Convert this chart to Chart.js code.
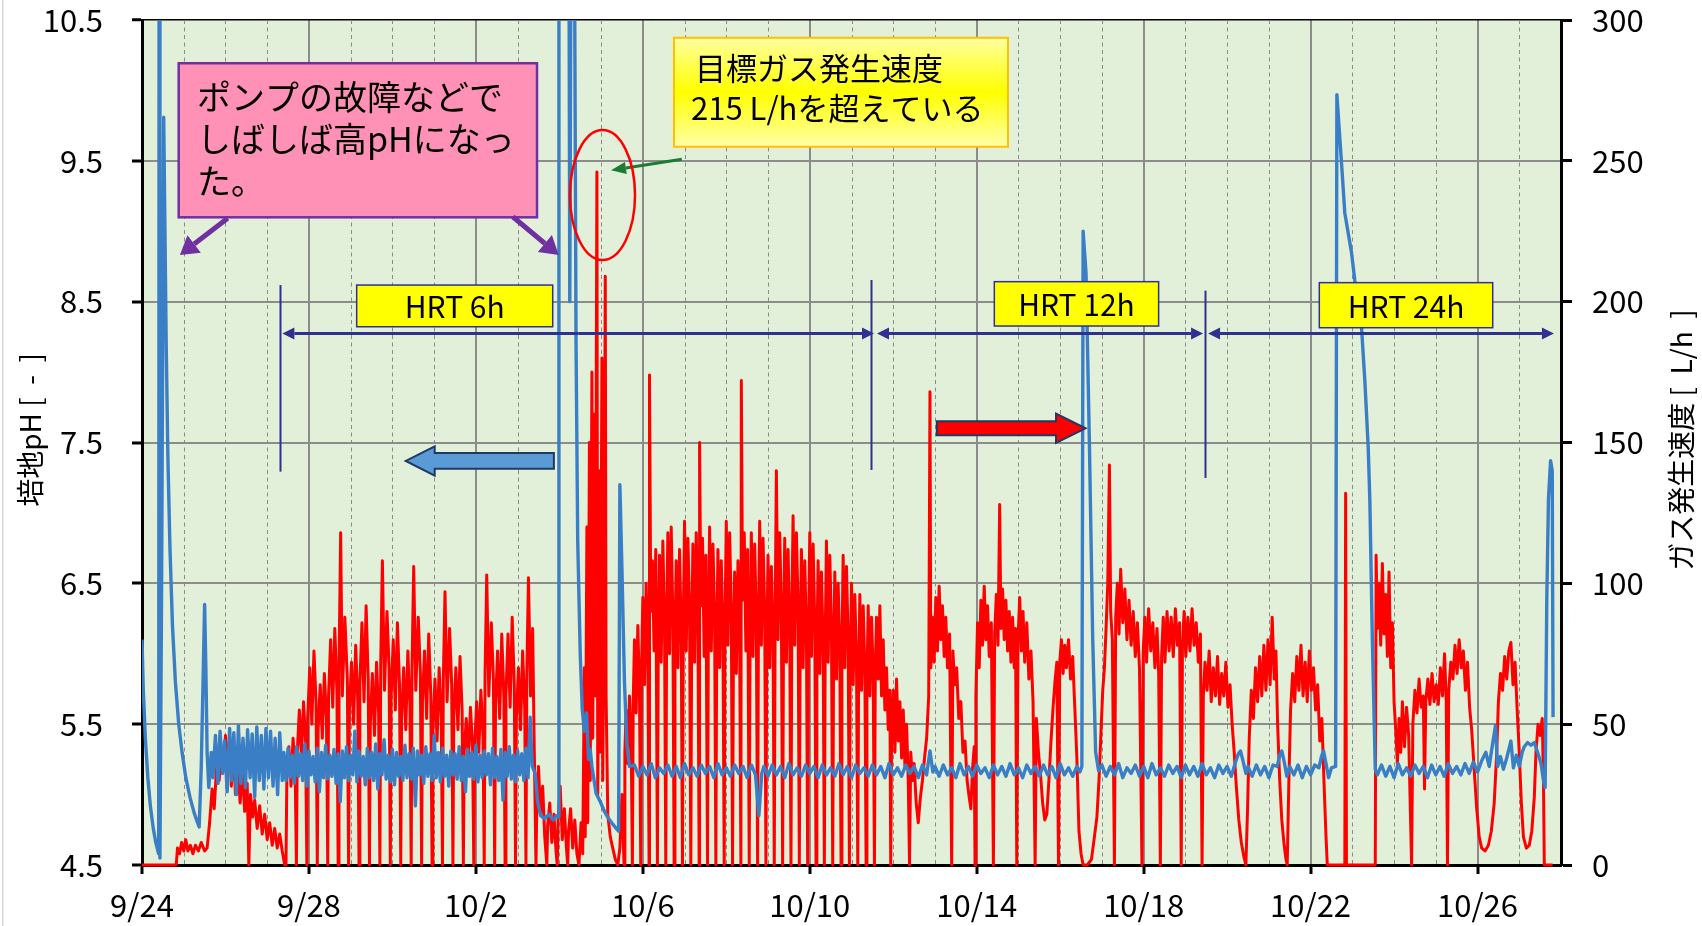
<!DOCTYPE html>
<html><head><meta charset="utf-8">
<script src="https://cdn.jsdelivr.net/npm/chart.js@4"></script>
<style>html,body{margin:0;padding:0;background:#fff;}canvas{display:block;}</style>
</head><body>
<canvas id="c" width="1702" height="926"></canvas>
<script>
// ---------- axis ticks ----------
const dateTickDays = [0,4,8,12,16,20,24,28,32];
const dateTickLabels = ['9/24','9/28','10/2','10/6','10/10','10/14','10/18','10/22','10/26'];
const phTickLabels = ['4.5','5.5','6.5','7.5','8.5','9.5','10.5'];
const gasTickLabels = ['0','50','100','150','200','250','300'];

// ---------- pH series (days since 9/24, pH) ----------
const phStartup = [[0,6.1],[0.03,5.75],[0.08,5.4],[0.14,5.12],[0.2,4.92],[0.27,4.76],[0.33,4.66],[0.38,4.6],[0.4,4.58],[0.41,11.2],[0.43,4.55],[0.47,6.5],[0.52,9.81],[0.55,9.0],[0.58,8.2],[0.62,7.4],[0.67,6.75],[0.73,6.2],[0.8,5.8],[0.88,5.5],[0.96,5.3],[1.05,5.12],[1.15,4.98],[1.25,4.87],[1.33,4.8],[1.37,4.77],[1.42,5.2],[1.47,5.9],[1.5,6.35],[1.53,5.9],[1.56,5.3],[1.6,5.05],[1.66,5.3],[1.7,5.12],[1.76,5.42],[1.82,5.08],[1.87,5.45],[1.93,5.15],[1.98,5.38],[2.04,5.02],[2.1,5.47],[2.15,5.1],[2.2,5.44],[2.26,5.0],[2.31,5.49],[2.37,5.08],[2.42,5.4],[2.48,5.05],[2.53,5.46],[2.59,5.12],[2.64,5.43],[2.7,4.98],[2.75,5.48],[2.81,5.1],[2.86,5.42],[2.92,5.04],[2.97,5.47],[3.03,5.12],[3.08,5.45],[3.14,5.06],[3.19,5.4],[3.25,5.0],[3.3,5.44],[3.36,5.1]];
const phHrt6 = [[3.4,5.3],[3.45,5.1],[3.5,5.33],[3.55,5.12],[3.6,5.28],[3.65,5.08],[3.7,5.34],[3.75,5.13],[3.8,5.29],[3.85,5.1],[3.9,5.36],[3.95,5.06],[4.0,5.31],[4.05,5.14],[4.1,5.27],[4.15,5.09],[4.2,5.33],[4.25,5.02],[4.3,5.3],[4.35,5.12],[4.4,5.35],[4.45,5.11],[4.5,5.28],[4.55,5.13],[4.6,5.32],[4.65,5.08],[4.7,5.29],[4.75,4.95],[4.8,5.31],[4.85,5.12],[4.9,5.34],[4.95,5.1],[5.0,5.28],[5.05,5.14],[5.1,5.45],[5.15,5.09],[5.2,5.31],[5.25,5.13],[5.3,5.27],[5.35,5.07],[5.4,5.33],[5.45,5.12],[5.5,5.3],[5.55,5.1],[5.6,5.36],[5.65,5.04],[5.7,5.29],[5.75,5.14],[5.8,5.39],[5.85,5.11],[5.9,5.28],[5.95,5.09],[6.0,5.32],[6.05,5.07],[6.1,5.3],[6.15,5.13],[6.2,5.27],[6.25,5.1],[6.3,5.35],[6.35,5.12],[6.4,5.29],[6.45,5.11],[6.5,5.33],[6.55,4.92],[6.6,5.31],[6.65,5.14],[6.7,5.28],[6.75,5.08],[6.8,5.34],[6.85,5.13],[6.9,5.29],[6.95,5.1],[7.0,5.42],[7.05,5.12],[7.1,5.3],[7.15,5.09],[7.2,5.33],[7.25,5.13],[7.3,5.28],[7.35,5.06],[7.4,5.31],[7.45,5.14],[7.5,5.29],[7.55,5.11],[7.6,5.34],[7.65,5.1],[7.7,5.27],[7.75,5.02],[7.8,5.32],[7.85,5.13],[7.9,5.3],[7.95,5.11],[8.0,5.35],[8.05,5.09],[8.1,5.28],[8.15,5.12],[8.2,5.31],[8.25,5.14],[8.3,5.29],[8.35,5.07],[8.4,5.33],[8.45,5.12],[8.5,5.27],[8.55,5.1],[8.6,5.32],[8.65,4.96],[8.7,5.3],[8.75,5.13],[8.8,5.34],[8.85,5.11],[8.9,5.28],[8.95,5.09],[9.0,5.31],[9.05,5.14],[9.1,5.29],[9.15,5.1],[9.2,5.33],[9.25,5.12],[9.3,5.55],[9.35,5.2]];
const phUpset = [[9.42,5.15],[9.48,4.95],[9.55,4.85],[9.65,4.83],[9.75,4.86],[9.85,4.82],[9.93,4.85],[9.97,4.84],[9.99,11.2],[10.23,11.2],[10.25,8.5],[10.28,11.2],[10.36,11.2],[10.4,8.2],[10.44,6.8],[10.5,6.0],[10.55,5.6],[10.6,5.45],[10.65,5.58],[10.7,5.25],[10.74,5.32],[10.78,5.2],[10.88,5.01],[10.98,4.95],[11.08,4.88],[11.18,4.83],[11.28,4.79],[11.36,4.76],[11.42,4.74],[11.45,7.2],[11.5,6.6],[11.56,5.8],[11.62,5.35],[11.68,5.2]];
const phMid = [[11.8,5.21],[11.9,5.13],[12.0,5.2],[12.1,5.14],[12.2,5.22],[12.3,5.12],[12.4,5.19],[12.5,5.15],[12.6,5.21],[12.7,5.13],[12.8,5.2],[12.9,5.12],[13.0,5.22],[13.1,5.14],[13.2,5.19],[13.3,5.13],[13.4,5.21],[13.5,5.15],[13.6,5.2],[13.7,5.12],[13.8,5.22],[13.9,5.14],[14.0,5.19],[14.1,5.13],[14.2,5.21],[14.3,5.15],[14.4,5.2],[14.5,5.12],[14.6,5.21],[14.7,5.14],[14.78,4.85],[14.85,5.15],[14.9,5.2],[15.0,5.13],[15.1,5.21],[15.2,5.14],[15.3,5.2],[15.4,5.12],[15.5,5.22],[15.6,5.14],[15.7,5.19],[15.8,5.13],[15.9,5.21],[16.0,5.15],[16.1,5.2],[16.2,5.12],[16.3,5.21],[16.4,5.14],[16.5,5.19],[16.6,5.13],[16.7,5.22],[16.8,5.14],[16.9,5.2],[17.0,5.12],[17.1,5.21],[17.2,5.15],[17.3,5.19],[17.4,5.13],[17.5,5.21],[17.6,5.14],[17.7,5.2],[17.8,5.12],[17.9,5.22],[18.0,5.14],[18.1,5.19],[18.2,5.13],[18.3,5.21],[18.4,5.15],[18.5,5.2],[18.6,5.12],[18.7,5.21],[18.8,5.14],[18.88,5.31],[18.95,5.16],[19.0,5.2],[19.1,5.13],[19.2,5.21],[19.3,5.14],[19.4,5.19],[19.5,5.12],[19.6,5.22],[19.7,5.14],[19.8,5.2],[19.9,5.13],[20.0,5.21],[20.1,5.15],[20.2,5.19],[20.3,5.12],[20.4,5.21],[20.5,5.14],[20.6,5.2],[20.7,5.13],[20.8,5.22],[20.9,5.14],[21.0,5.19],[21.1,5.12],[21.2,5.21],[21.3,5.15],[21.4,5.2],[21.5,5.13],[21.6,5.21],[21.7,5.14],[21.8,5.2],[21.9,5.12],[22.0,5.22],[22.1,5.14],[22.2,5.19],[22.3,5.13],[22.4,5.2],[22.47,5.16]];
const phSpike12 = [[22.52,5.2],[22.55,9.0],[22.62,8.7],[22.7,7.5],[22.78,6.1],[22.85,5.3],[22.92,5.17]];
const phLate = [[23.0,5.21],[23.1,5.13],[23.2,5.2],[23.3,5.14],[23.4,5.22],[23.5,5.12],[23.6,5.19],[23.7,5.15],[23.8,5.21],[23.9,5.13],[24.0,5.2],[24.1,5.12],[24.2,5.22],[24.3,5.14],[24.4,5.19],[24.5,5.13],[24.6,5.21],[24.7,5.15],[24.8,5.2],[24.9,5.12],[25.0,5.21],[25.1,5.14],[25.2,5.2],[25.3,5.13],[25.4,5.22],[25.5,5.14],[25.6,5.19],[25.7,5.12],[25.8,5.21],[25.9,5.15],[26.0,5.2],[26.1,5.13],[26.2,5.23],[26.27,5.29],[26.32,5.31],[26.38,5.24],[26.45,5.15],[26.5,5.2],[26.6,5.13],[26.7,5.21],[26.8,5.14],[26.9,5.2],[27.0,5.12],[27.1,5.21],[27.2,5.2],[27.26,5.28],[27.31,5.31],[27.37,5.23],[27.43,5.13],[27.5,5.2],[27.6,5.14],[27.7,5.21],[27.8,5.12],[27.9,5.2],[28.0,5.14],[28.1,5.21],[28.2,5.19],[28.26,5.27],[28.31,5.31],[28.37,5.22],[28.43,5.12],[28.5,5.19]];
const phSpike24 = [[28.6,5.2],[28.63,9.97],[28.68,9.75],[28.74,9.49],[28.82,9.13],[28.98,8.85],[29.06,8.65],[29.22,8.32],[29.3,7.94],[29.38,7.47],[29.42,7.09],[29.48,6.1],[29.55,5.18]];
const phEnd = [[29.6,5.14],[29.7,5.21],[29.8,5.13],[29.9,5.2],[30.0,5.12],[30.1,5.22],[30.2,5.14],[30.3,5.19],[30.4,5.13],[30.5,5.21],[30.6,5.15],[30.7,5.2],[30.8,5.12],[30.9,5.21],[31.0,5.14],[31.1,5.2],[31.2,5.13],[31.3,5.22],[31.4,5.15],[31.5,5.2],[31.6,5.14],[31.7,5.22],[31.8,5.15],[31.9,5.23],[32.0,5.16],[32.1,5.24],[32.2,5.3],[32.28,5.2],[32.34,5.32],[32.43,5.49],[32.48,5.2],[32.55,5.27],[32.62,5.18],[32.7,5.26],[32.8,5.38],[32.86,5.19],[32.93,5.28],[33.0,5.2],[33.07,5.3],[33.12,5.34],[33.2,5.37],[33.28,5.35],[33.36,5.37],[33.44,5.3],[33.52,5.22],[33.58,5.1],[33.62,5.05],[33.66,6.4],[33.7,7.1],[33.75,7.37],[33.79,7.3],[33.81,5.55]];

// ---------- gas production rate series (days since 9/24, L/h) ----------
const gasStartup = [[0,0],[0.82,0],[0.85,6],[0.9,4],[0.95,8],[1.0,5],[1.05,9],[1.1,5],[1.16,7],[1.22,4],[1.28,7],[1.35,5],[1.42,8],[1.5,5],[1.56,6],[1.62,15],[1.68,27],[1.73,20],[1.8,38],[1.85,30],[1.9,42],[1.95,35],[2.0,46],[2.05,38],[2.1,44],[2.14,28],[2.19,41],[2.24,25],[2.3,36],[2.35,22],[2.41,33],[2.46,19],[2.52,29],[2.56,0],[2.6,25],[2.65,17],[2.7,23],[2.76,13],[2.82,21],[2.88,11],[2.94,18],[3.0,9],[3.06,15],[3.12,7],[3.18,13],[3.24,6],[3.3,11],[3.36,5],[3.42,0]];
const gasHrt6a = [[3.45,0],[3.47,30],[3.52,42],[3.57,28],[3.62,45],[3.67,33],[3.7,0],[3.72,40],[3.77,55],[3.82,38],[3.87,58],[3.92,44],[3.95,0],[3.97,52],[4.02,70],[4.07,50],[4.12,76],[4.17,58],[4.2,0],[4.22,48],[4.27,64],[4.32,45],[4.37,68],[4.42,52],[4.45,0],[4.47,60],[4.52,80],[4.57,56],[4.62,84],[4.67,62],[4.7,0],[4.72,70],[4.76,118],[4.8,60],[4.86,88],[4.92,66],[4.95,0],[4.97,55],[5.02,72],[5.07,50],[5.12,78],[5.17,58],[5.2,0],[5.22,64],[5.27,86],[5.32,58],[5.37,92],[5.42,66],[5.45,0],[5.47,50],[5.52,68],[5.57,46],[5.62,72],[5.67,54],[5.7,0],[5.72,72],[5.76,108],[5.81,62],[5.87,90],[5.92,70],[5.95,0],[5.97,60],[6.02,80],[6.07,55],[6.12,86],[6.17,64],[6.2,0],[6.22,52],[6.27,70],[6.32,48],[6.37,76],[6.42,56],[6.45,0],[6.47,70],[6.51,106],[6.56,62],[6.62,88],[6.67,68],[6.7,0],[6.72,58],[6.77,76],[6.82,52],[6.87,82],[6.92,60],[6.95,0],[6.97,48],[7.02,66],[7.07,44],[7.12,70],[7.17,52],[7.2,0],[7.22,66],[7.26,97],[7.31,58],[7.37,84],[7.42,64],[7.45,0],[7.47,52],[7.52,70],[7.57,48],[7.62,74],[7.67,55],[7.7,0],[7.72,40],[7.77,52],[7.82,36],[7.87,56],[7.92,42],[7.95,0],[7.97,42],[8.02,58],[8.07,40],[8.12,62],[8.17,46],[8.2,0],[8.22,68],[8.26,103],[8.31,60],[8.37,86],[8.42,66],[8.45,0],[8.47,56],[8.52,76],[8.57,52],[8.62,82],[8.67,60],[8.7,0],[8.72,60],[8.77,82],[8.82,56],[8.87,88],[8.92,64],[8.95,0],[8.97,52],[9.02,70],[9.07,48],[9.12,76],[9.17,56],[9.2,0],[9.22,68],[9.26,102],[9.31,60],[9.36,84],[9.4,40]];
const gasLow = [[9.44,0],[9.46,22],[9.5,35],[9.55,18],[9.6,28],[9.65,10],[9.7,0],[9.72,14],[9.77,22],[9.82,8],[9.87,18],[9.92,5],[9.95,0],[9.97,16],[10.02,28],[10.07,9],[10.12,20],[10.17,6],[10.2,0],[10.22,12],[10.27,20],[10.32,6],[10.37,16],[10.42,4]];
const gasPeak = [[10.47,0],[10.52,15],[10.56,4],[10.6,70],[10.62,10],[10.66,120],[10.68,15],[10.72,150],[10.74,30],[10.78,175],[10.8,45],[10.84,160],[10.86,60],[10.9,246],[10.92,25],[10.96,140],[10.98,40],[11.02,180],[11.04,30],[11.08,120],[11.1,209],[11.12,60],[11.16,18],[11.22,10],[11.28,6],[11.34,2],[11.4,0],[11.45,6],[11.5,25]];
const gasHrt6b = [[11.55,0],[11.57,40],[11.6,55],[11.64,36],[11.68,60],[11.72,45],[11.75,0],[11.77,58],[11.8,80],[11.84,54],[11.88,85],[11.92,62],[11.95,0],[11.97,70],[12.0,95],[12.04,64],[12.08,100],[12.12,74],[12.15,0],[12.16,174],[12.19,90],[12.23,108],[12.27,76],[12.31,112],[12.35,0],[12.37,80],[12.4,110],[12.44,72],[12.48,115],[12.52,85],[12.55,0],[12.57,84],[12.6,118],[12.64,75],[12.68,120],[12.72,88],[12.75,0],[12.77,78],[12.8,108],[12.84,70],[12.88,112],[12.92,82],[12.95,0],[12.97,86],[13.0,122],[13.04,76],[13.08,116],[13.12,90],[13.15,0],[13.17,80],[13.2,114],[13.24,72],[13.28,118],[13.32,86],[13.35,0],[13.36,150],[13.39,92],[13.43,116],[13.47,74],[13.51,110],[13.55,0],[13.57,84],[13.6,120],[13.64,76],[13.68,114],[13.72,88],[13.75,0],[13.77,76],[13.8,112],[13.84,70],[13.88,108],[13.92,80],[13.95,0],[13.97,88],[14.0,122],[14.04,78],[14.08,118],[14.12,90],[14.15,0],[14.17,74],[14.2,104],[14.24,68],[14.28,108],[14.32,80],[14.35,0],[14.36,172],[14.39,94],[14.43,118],[14.47,76],[14.51,112],[14.55,0],[14.57,82],[14.6,118],[14.64,74],[14.68,114],[14.72,86],[14.75,0],[14.77,86],[14.8,122],[14.84,78],[14.88,116],[14.92,90],[14.95,0],[14.97,76],[15.0,110],[15.04,70],[15.08,106],[15.12,80],[15.15,0],[15.17,88],[15.2,140],[15.24,80],[15.28,118],[15.32,90],[15.35,0],[15.37,80],[15.4,116],[15.44,72],[15.48,112],[15.52,84],[15.55,0],[15.57,88],[15.6,124],[15.64,78],[15.68,118],[15.72,92],[15.75,0],[15.77,78],[15.8,112],[15.84,70],[15.88,108],[15.92,82],[15.95,0],[15.97,82],[16.0,118],[16.04,74],[16.08,114],[16.12,86],[16.15,0],[16.17,74],[16.2,108],[16.24,68],[16.28,104],[16.32,78],[16.35,0],[16.37,80],[16.4,115],[16.44,72],[16.48,110],[16.52,84],[16.55,0],[16.57,72],[16.6,104],[16.64,66],[16.68,100],[16.72,76],[16.75,0],[16.77,76],[16.8,110],[16.84,70],[16.88,106],[16.92,80],[16.95,0],[16.97,70],[17.0,100],[17.04,64],[17.08,96],[17.12,72],[17.15,0],[17.17,66],[17.2,96],[17.24,62],[17.28,92],[17.32,70],[17.35,0],[17.37,64],[17.4,92],[17.44,60],[17.48,88],[17.52,68]];
const gasHrt12 = [[17.55,0],[17.57,70],[17.6,88],[17.64,66],[17.68,92],[17.72,60],[17.76,80],[17.8,55],[17.84,70],[17.88,48],[17.92,62],[17.94,0],[17.96,45],[18.0,62],[18.04,40],[18.08,66],[18.12,44],[18.16,58],[18.2,38],[18.24,55],[18.28,35],[18.32,50],[18.36,30],[18.39,0],[18.42,40],[18.46,30],[18.5,36],[18.55,22],[18.6,15],[18.65,24],[18.7,30],[18.75,38],[18.8,45],[18.85,60],[18.88,168],[18.9,70],[18.94,88],[18.98,72],[19.02,95],[19.06,76],[19.1,99],[19.14,80],[19.18,92],[19.22,74],[19.26,88],[19.3,70],[19.35,82],[19.4,0],[19.43,76],[19.47,64],[19.52,70],[19.57,52],[19.62,58],[19.67,40],[19.72,44],[19.77,30],[19.82,24],[19.86,20],[19.9,34],[19.94,42],[19.96,0],[19.98,60],[20.02,86],[20.06,70],[20.1,94],[20.14,78],[20.18,99],[20.22,80],[20.26,92],[20.3,74],[20.35,86],[20.4,0],[20.43,82],[20.47,96],[20.51,78],[20.55,128],[20.58,84],[20.62,98],[20.66,80],[20.7,94],[20.74,76],[20.78,90],[20.82,72],[20.86,88],[20.9,70],[20.93,84],[20.96,0],[20.99,80],[21.03,95],[21.07,76],[21.11,90],[21.15,72],[21.2,86],[21.25,66],[21.3,76],[21.35,58],[21.4,0],[21.43,52],[21.48,40],[21.53,32],[21.58,22],[21.63,16],[21.68,18],[21.73,30],[21.78,44],[21.83,56],[21.88,66],[21.92,72],[21.96,0],[21.99,72],[22.03,80],[22.07,68],[22.11,78],[22.15,70],[22.2,80],[22.25,66],[22.3,74],[22.35,56],[22.4,38],[22.45,12],[22.5,4],[22.55,0],[22.65,0],[22.75,2],[22.82,10],[22.88,17],[22.93,30],[22.98,48],[23.02,62],[23.06,70],[23.1,84],[23.14,100],[23.18,142],[23.21,90],[23.25,80],[23.3,0],[23.33,88],[23.37,100],[23.41,82],[23.45,105],[23.5,86],[23.55,98],[23.6,80],[23.65,94],[23.7,78],[23.75,90],[23.8,74],[23.85,86],[23.9,70],[23.96,0],[23.99,76],[24.03,88],[24.07,72],[24.12,91],[24.17,76],[24.22,86],[24.27,70],[24.32,84],[24.36,68],[24.4,0],[24.43,74],[24.47,88],[24.51,72],[24.56,90],[24.61,76],[24.66,88],[24.71,74],[24.76,91],[24.81,78],[24.86,86],[24.9,0],[24.93,78],[24.97,90],[25.01,74],[25.06,88],[25.11,76],[25.16,91],[25.21,78],[25.26,86],[25.31,72],[25.36,82],[25.4,0]];
const gasHrt24 = [[25.43,60],[25.47,72],[25.52,62],[25.57,76],[25.62,58],[25.67,70],[25.72,60],[25.77,74],[25.82,57],[25.87,68],[25.92,60],[25.97,72],[26.02,56],[26.07,64],[26.12,50],[26.17,40],[26.22,28],[26.28,16],[26.34,8],[26.4,3],[26.45,0],[26.49,20],[26.53,45],[26.58,62],[26.63,52],[26.68,70],[26.73,58],[26.78,74],[26.83,60],[26.88,78],[26.93,62],[26.98,80],[27.03,64],[27.08,88],[27.13,66],[27.17,76],[27.21,50],[27.26,30],[27.31,16],[27.36,8],[27.41,2],[27.44,0],[27.48,30],[27.52,55],[27.57,68],[27.62,58],[27.67,74],[27.72,62],[27.77,78],[27.82,60],[27.87,72],[27.92,58],[27.97,76],[28.02,62],[28.07,70],[28.12,55],[28.17,64],[28.22,44],[28.27,52],[28.32,30],[28.37,10],[28.4,0],[28.82,0],[28.84,132],[28.86,0],[29.55,0],[29.57,110],[29.6,84],[29.64,100],[29.68,78],[29.72,107],[29.76,82],[29.8,96],[29.84,74],[29.88,104],[29.92,70],[29.96,86],[30.0,58],[30.04,48],[30.08,36],[30.12,52],[30.16,40],[30.2,58],[30.25,42],[30.3,56],[30.35,46],[30.42,0],[30.45,50],[30.5,62],[30.55,54],[30.6,66],[30.65,56],[30.7,60],[30.73,27],[30.76,58],[30.81,66],[30.86,57],[30.91,68],[30.96,58],[31.01,64],[31.06,57],[31.11,70],[31.16,60],[31.21,75],[31.25,58],[31.28,0],[31.31,62],[31.36,72],[31.41,66],[31.46,78],[31.51,68],[31.56,80],[31.61,70],[31.66,76],[31.71,62],[31.76,72],[31.81,56],[31.86,48],[31.92,34],[31.98,20],[32.04,10],[32.1,6],[32.18,5],[32.26,7],[32.33,12],[32.4,22],[32.46,40],[32.5,58],[32.55,68],[32.6,62],[32.65,74],[32.7,66],[32.75,76],[32.8,79],[32.85,64],[32.9,72],[32.95,55],[33.0,40],[33.05,22],[33.1,10],[33.17,6],[33.24,7],[33.3,12],[33.36,24],[33.4,40],[33.45,50],[33.5,46],[33.55,52],[33.58,30],[33.6,0],[33.8,0]];

// ---------- assemble ----------
const toXY = arr => arr.map(p => ({x: p[0], y: p[1]}));
const phData = toXY([].concat(phStartup, phHrt6, phUpset, phMid, phSpike12, phLate, phSpike24, phEnd));
const gasData = toXY([].concat(gasStartup, gasHrt6a, gasLow, gasPeak, gasHrt6b, gasHrt12, gasHrt24));

const FONT = '"Noto Sans CJK JP", "Noto Sans", sans-serif';

// ---------- decorations (annotation layout in data units: day, pH) ----------
const deco = {
  id: 'deco',
  beforeDraw(chart) {
    const {ctx, chartArea: a} = chart;
    ctx.save();
    ctx.fillStyle = '#E3F0D9';
    ctx.fillRect(a.left, a.top, a.right - a.left, a.bottom - a.top);
    ctx.fillStyle = '#D9D9D9';
    ctx.fillRect(2, 0, 1.5, chart.height);
    ctx.restore();
  },
  beforeDatasetsDraw(chart) {
    const {ctx, chartArea: a, scales} = chart;
    ctx.save();
    ctx.strokeStyle = '#8A8A8A'; ctx.lineWidth = 1; ctx.setLineDash([4, 3.5]);
    for (let d = 1; d < 34; d++) {
      if (d % 4 === 0) continue;
      const X = Math.round(scales.x.getPixelForValue(d)) + 0.5;
      ctx.beginPath(); ctx.moveTo(X, a.top); ctx.lineTo(X, a.bottom); ctx.stroke();
    }
    ctx.restore();
  },
  afterDatasetsDraw(chart) {
    const {ctx, scales} = chart;
    const X = d => scales.x.getPixelForValue(d);
    const Y = v => scales.y.getPixelForValue(v);
    ctx.save();
    const arrow = (x1, y1, x2, y2, color, lw, hl, hw) => {
      const ang = Math.atan2(y2 - y1, x2 - x1);
      const bx = x2 - hl * Math.cos(ang), by = y2 - hl * Math.sin(ang);
      ctx.strokeStyle = color; ctx.lineWidth = lw; ctx.lineCap = 'butt';
      ctx.beginPath(); ctx.moveTo(x1, y1); ctx.lineTo(bx, by); ctx.stroke();
      ctx.fillStyle = color; ctx.beginPath(); ctx.moveTo(x2, y2);
      ctx.lineTo(bx + hw * Math.sin(ang), by - hw * Math.cos(ang));
      ctx.lineTo(bx - hw * Math.sin(ang), by + hw * Math.cos(ang));
      ctx.closePath(); ctx.fill();
    };
    const box = (d1, p1, d2, p2, fill, stroke, lw) => {
      const x = X(d1), y = Y(p1), w = X(d2) - X(d1), h = Y(p2) - Y(p1);
      ctx.fillStyle = fill; ctx.fillRect(x, y, w, h);
      ctx.strokeStyle = stroke; ctx.lineWidth = lw; ctx.strokeRect(x, y, w, h);
    };
    const blockArrow = (tail, base, tip, yc, sh, hh, fill, stroke) => {
      const yC = Y(yc);
      const s = Y(yc) - Y(yc + sh), h = Y(yc) - Y(yc + hh);
      ctx.beginPath();
      ctx.moveTo(X(tail), yC - s); ctx.lineTo(X(base), yC - s); ctx.lineTo(X(base), yC - h);
      ctx.lineTo(X(tip), yC); ctx.lineTo(X(base), yC + h); ctx.lineTo(X(base), yC + s);
      ctx.lineTo(X(tail), yC + s); ctx.closePath();
      ctx.fillStyle = fill; ctx.fill();
      ctx.strokeStyle = stroke; ctx.lineWidth = 2; ctx.lineJoin = 'miter'; ctx.stroke();
    };
    const NAVY = '#2E3192';

    // HRT period markers
    ctx.strokeStyle = NAVY; ctx.lineWidth = 2;
    [[3.316, 8.618, 7.293], [17.467, 8.654, 7.305], [25.477, 8.578, 7.248]].forEach(v => {
      const x = Math.round(X(v[0])) + 0.5;
      ctx.beginPath(); ctx.moveTo(x, Y(v[1])); ctx.lineTo(x, Y(v[2])); ctx.stroke();
    });
    [[3.364, 17.539], [17.611, 25.423], [25.543, 33.831]].forEach(r => {
      const y = Y(8.274), a = X(r[0]), b = X(r[1]), m = (a + b) / 2;
      arrow(m, y, a, y, NAVY, 3, 12, 6);
      arrow(m, y, b, y, NAVY, 3, 12, 6);
    });
    ctx.font = '30px ' + FONT; ctx.textAlign = 'center'; ctx.textBaseline = 'middle';
    [[5.144, 8.618, 9.841, 8.322, 'HRT 6h'], [20.422, 8.642, 24.359, 8.327, 'HRT 12h'], [28.209, 8.635, 32.364, 8.315, 'HRT 24h']].forEach(b => {
      box(b[0], b[1], b[2], b[3], '#FFFF00', NAVY, 1.5);
      ctx.fillStyle = '#000';
      ctx.fillText(b[4], (X(b[0]) + X(b[2])) / 2, (Y(b[1]) + Y(b[3])) / 2 + 1);
    });

    // block arrows
    blockArrow(9.869, 7.013, 6.319, 7.369, 0.0557, 0.104, '#5B9BD5', '#1F3864');
    blockArrow(19.044, 21.900, 22.609, 7.601, 0.0497, 0.104, '#FF0000', '#1F3864');

    // pink note
    box(0.879, 10.193, 9.465, 9.099, '#FF91B6', '#7030A0', 2.5);
    ctx.fillStyle = '#000'; ctx.font = '34px ' + FONT; ctx.textAlign = 'left'; ctx.textBaseline = 'middle';
    ctx.fillText('ポンプの故障などで', X(1.318), Y(9.953));
    ctx.fillText('しばしば高pHになっ', X(1.318), Y(9.655));
    ctx.fillText('た。', X(1.318), Y(9.357));
    arrow(X(2.053), Y(9.092), X(0.908), Y(8.831), '#7030A0', 5, 18, 11);
    arrow(X(8.885), Y(9.103), X(9.984), Y(8.831), '#7030A0', 5, 18, 11);

    // yellow note
    const y1 = Y(10.374), y2 = Y(9.600);
    const g = ctx.createLinearGradient(0, y1, 0, y2);
    g.addColorStop(0, '#FFFFA0'); g.addColorStop(0.5, '#FFFF00'); g.addColorStop(1, '#FFFFA8');
    box(12.747, 10.374, 20.750, 9.600, g, '#FFC000', 2);
    ctx.fillStyle = '#000'; ctx.font = '31px ' + FONT; ctx.textAlign = 'left';
    ctx.fillText('目標ガス発生速度', X(13.25), Y(10.157));
    ctx.fillText('215 L/hを超えている', X(13.155), Y(9.873));
    arrow(X(12.934), Y(9.511), X(11.238), Y(9.433), '#1E7B32', 3, 15, 6);

    // red ellipse
    ctx.strokeStyle = '#FF0000'; ctx.lineWidth = 2.5;
    ctx.beginPath();
    ctx.ellipse(X(11.034), Y(9.257), X(11.034 + 0.779) - X(11.034), Y(9.257) - Y(9.257 + 0.4615), 0, 0, Math.PI * 2);
    ctx.stroke();
    ctx.restore();
  },
  afterDraw(chart) {
    const {ctx} = chart;
    ctx.save();
    ctx.fillStyle = '#000'; ctx.font = '28px ' + FONT; ctx.textAlign = 'center'; ctx.textBaseline = 'middle';
    ctx.translate(30, 430); ctx.rotate(-Math.PI / 2); ctx.fillText('培地pH [  -  ]', 0, 0);
    ctx.restore();
    ctx.save();
    ctx.fillStyle = '#000'; ctx.font = '28px ' + FONT; ctx.textAlign = 'center'; ctx.textBaseline = 'middle';
    ctx.translate(1681, 440); ctx.rotate(-Math.PI / 2); ctx.fillText('ガス発生速度 [  L/h  ]', 0, 0);
    ctx.restore();
  }
};

const tickFont = {family: FONT, size: 31};
const noPadV = s => { s.paddingTop = 0; s.paddingBottom = 0; };
new Chart(document.getElementById('c'), {
  type: 'line',
  data: {
    datasets: [
      {label: '培地pH', data: phData, yAxisID: 'y', borderColor: '#3A7FC6', borderWidth: 3.4, pointRadius: 0, tension: 0, borderJoinStyle: 'round', clip: {left: 0, top: 0, right: 0, bottom: 3}},
      {label: 'ガス発生速度', data: gasData, yAxisID: 'y1', borderColor: '#FF0000', borderWidth: 3, pointRadius: 0, tension: 0, borderJoinStyle: 'round', clip: {left: 0, top: 0, right: 0, bottom: 3}}
    ]
  },
  options: {
    responsive: false, animation: false, devicePixelRatio: 1,
    layout: {padding: {top: 20, left: 0, right: 0, bottom: 0}},
    plugins: {legend: {display: false}, tooltip: {enabled: false}},
    scales: {
      x: {
        type: 'linear', min: 0, max: 34,
        afterBuildTicks: s => { s.ticks = dateTickDays.map(v => ({value: v})); },
        afterFit: s => { s.height = 61; s.paddingLeft = 0; s.paddingRight = 0; },
        ticks: {callback: (v, i) => dateTickLabels[i], font: tickFont, color: '#000', padding: 13, maxRotation: 0, autoSkip: false},
        grid: {color: c => c.index === 0 ? 'rgba(0,0,0,0)' : '#8C8C8C', lineWidth: 2, tickColor: '#000', tickWidth: 3, tickLength: 9},
        border: {color: '#000', width: 3}
      },
      y: {
        position: 'left', min: 4.5, max: 10.5,
        afterFit: s => { s.width = 142; noPadV(s); },
        ticks: {stepSize: 1, callback: (v, i) => phTickLabels[i], font: tickFont, color: '#000', padding: 29},
        grid: {color: c => c.index === 0 ? 'rgba(0,0,0,0)' : (c.index === 6 ? '#000' : '#8C8C8C'), lineWidth: c => c.index === 6 ? 1.5 : 2, tickColor: '#000', tickWidth: 3, tickLength: 10},
        border: {color: '#000', width: 3}
      },
      y1: {
        position: 'right', min: 0, max: 300,
        afterFit: s => { s.width = 141; noPadV(s); },
        ticks: {stepSize: 50, callback: (v, i) => gasTickLabels[i], font: tickFont, color: '#000', padding: 20},
        grid: {drawOnChartArea: false, tickColor: '#000', tickWidth: 3, tickLength: 11},
        border: {color: '#000', width: 3}
      }
    }
  },
  plugins: [deco]
});
</script>
</body></html>
